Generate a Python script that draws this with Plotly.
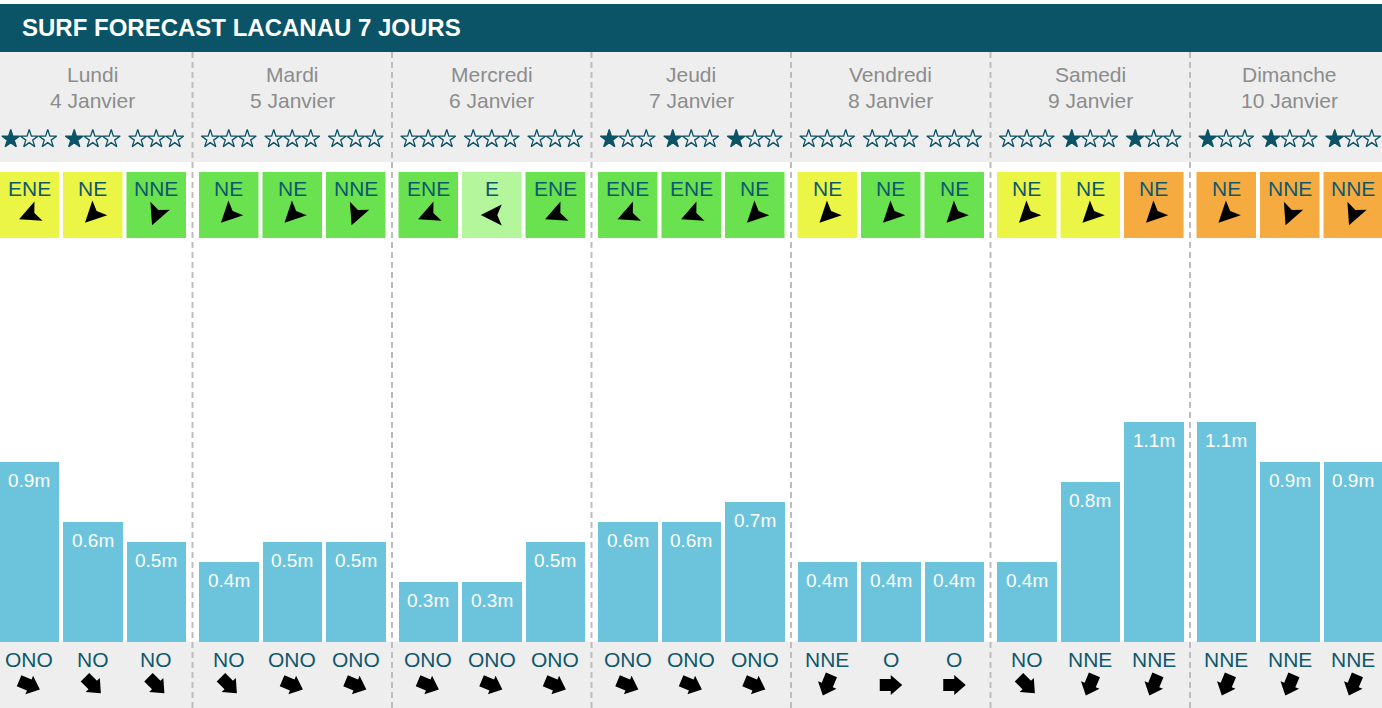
import plotly.graph_objects as go
import math

# ---------------- data ----------------
TITLE = "SURF FORECAST LACANAU 7 JOURS"
days = ["Lundi", "Mardi", "Mercredi", "Jeudi", "Vendredi", "Samedi", "Dimanche"]
dates = ["4 Janvier", "5 Janvier", "6 Janvier", "7 Janvier", "8 Janvier", "9 Janvier", "10 Janvier"]

wave_heights = [0.9, 0.6, 0.5,
                0.4, 0.5, 0.5,
                0.3, 0.3, 0.5,
                0.6, 0.6, 0.7,
                0.4, 0.4, 0.4,
                0.4, 0.8, 1.1,
                1.1, 0.9, 0.9]
star_ratings = [1, 1, 0,
                0, 0, 0,
                0, 0, 0,
                1, 1, 1,
                0, 0, 0,
                0, 1, 1,
                1, 1, 1]
wind_dirs = ["ENE", "NE", "NNE",
             "NE", "NE", "NNE",
             "ENE", "E", "ENE",
             "ENE", "ENE", "NE",
             "NE", "NE", "NE",
             "NE", "NE", "NE",
             "NE", "NNE", "NNE"]
wind_quality = ["fair", "fair", "good",
                "good", "good", "good",
                "good", "best", "good",
                "good", "good", "good",
                "fair", "good", "good",
                "fair", "fair", "poor",
                "poor", "poor", "poor"]
swell_dirs = ["ONO", "NO", "NO",
              "NO", "ONO", "ONO",
              "ONO", "ONO", "ONO",
              "ONO", "ONO", "ONO",
              "NNE", "O", "O",
              "NO", "NNE", "NNE",
              "NNE", "NNE", "NNE"]

COMPASS = {"N": 0, "NNE": 22.5, "NE": 45, "ENE": 67.5, "E": 90, "ESE": 112.5,
           "SE": 135, "SSE": 157.5, "S": 180, "SSO": 202.5, "SO": 225,
           "OSO": 247.5, "O": 270, "ONO": 292.5, "NO": 315, "NNO": 337.5}
QUALITY_COLORS = {"best": "#b3f69b", "good": "#6ae14f", "fair": "#eaf545", "poor": "#f5ab40"}

# ---------------- layout constants (pixels) ----------------
W, H = 1382, 708
DAY_W = 199.5
SLOT_W = 63.5
BAR_W = 59.5
X0 = -0.5
ZERO_PX = 641.5
PX_PER_M = 200.0
TEAL = "#0b5366"
TEXT_TEAL = "#0f586c"
GREY_BG = "#eeeeee"
BAR_COLOR = "#6bc4dc"
FONT = "Liberation Sans, Arial, sans-serif"

n = len(wave_heights)
lefts = [X0 + (i // 3) * DAY_W + (i % 3) * SLOT_W for i in range(n)]
centers = [l + BAR_W / 2 for l in lefts]
day_centers = [X0 + d * DAY_W + SLOT_W + BAR_W / 2 for d in range(len(days))]


def rot_path(points, cx, cy, bearing_to):
    b = math.radians(bearing_to)
    dx, dy = math.sin(b), -math.cos(b)
    pts = [(cx + px * dx - py * dy, cy + px * dy + py * dx) for px, py in points]
    return "M" + " L".join(f"{x:.2f},{y:.2f}" for x, y in pts) + " Z"


DART = [(11, 0), (-10, -10.5), (-5.5, 0), (-10, 10.5)]
BLOCK_ARROW = [(-11, -6), (0, -6), (0, -10), (11.5, 0), (0, 10), (0, 6), (-11, 6)]

shapes = []
# title bar
shapes.append(dict(type="rect", xref="x", yref="y2", x0=0, x1=W, y0=4, y1=52,
                   fillcolor=TEAL, line_width=0, layer="below"))
# grey header band
shapes.append(dict(type="rect", xref="x", yref="y2", x0=0, x1=W, y0=52, y1=162,
                   fillcolor=GREY_BG, line_width=0, layer="below"))
# grey bottom band
shapes.append(dict(type="rect", xref="x", yref="y2", x0=0, x1=W, y0=ZERO_PX, y1=H,
                   fillcolor=GREY_BG, line_width=0, layer="below"))
# day dividers
for d in range(1, len(days)):
    xd = X0 + d * DAY_W - (DAY_W - 2 * SLOT_W - BAR_W) / 2
    shapes.append(dict(type="line", xref="x", yref="y2", x0=xd, x1=xd, y0=52, y1=H,
                       line=dict(color="#bdbdbd", width=2, dash="6px,4px"), layer="below"))
# wind boxes + darts
for i in range(n):
    shapes.append(dict(type="rect", xref="x", yref="y2", x0=lefts[i], x1=lefts[i] + BAR_W,
                       y0=172, y1=238, fillcolor=QUALITY_COLORS[wind_quality[i]],
                       line_width=0, layer="below"))
    shapes.append(dict(type="path", xref="x", yref="y2",
                       path=rot_path(DART, centers[i], 215, COMPASS[wind_dirs[i]] + 180),
                       fillcolor="black", line_width=0))
    shapes.append(dict(type="path", xref="x", yref="y2",
                       path=rot_path(BLOCK_ARROW, centers[i], 685, COMPASS[swell_dirs[i]] + 180),
                       fillcolor="black", line_width=0))

annotations = []
annotations.append(dict(x=20, y=27, xref="x", yref="y2", xanchor="left", yanchor="middle",
                        text=f"<b>{TITLE}</b>", showarrow=False,
                        font=dict(family=FONT, size=24, color="white")))
for d in range(len(days)):
    annotations.append(dict(x=day_centers[d], y=74, xref="x", yref="y2", showarrow=False,
                            text=days[d], font=dict(family=FONT, size=21, color="#8c8c8c")))
    annotations.append(dict(x=day_centers[d], y=100, xref="x", yref="y2", showarrow=False,
                            text=dates[d], font=dict(family=FONT, size=21, color="#8c8c8c")))
for i in range(n):
    annotations.append(dict(x=centers[i], y=188, xref="x", yref="y2", showarrow=False,
                            text=wind_dirs[i], font=dict(family=FONT, size=21, color=TEXT_TEAL)))
    annotations.append(dict(x=centers[i], y=659, xref="x", yref="y2", showarrow=False,
                            text=swell_dirs[i], font=dict(family=FONT, size=21, color=TEXT_TEAL)))
    annotations.append(dict(x=centers[i], y=wave_heights[i], xref="x", yref="y", yshift=-19,
                            showarrow=False, text=f"{wave_heights[i]:g}m",
                            font=dict(family=FONT, size=19, color="white")))

fig = go.Figure()
fig.add_trace(go.Bar(x=centers, y=wave_heights, width=BAR_W, marker_color=BAR_COLOR,
                     marker_line_width=0, hoverinfo="skip", xaxis="x", yaxis="y"))

star_x, star_y, star_sym = [], [], []
for i in range(n):
    for k in range(3):
        star_x.append(centers[i] + (k - 1) * 18.5)
        star_y.append(139)
        star_sym.append("star" if k < star_ratings[i] else "star-open")
fig.add_trace(go.Scatter(x=star_x, y=star_y, mode="markers", xaxis="x", yaxis="y2",
                         marker=dict(symbol=star_sym, size=13.5, color=TEAL,
                                     line=dict(color=TEAL, width=1.3)),
                         hoverinfo="skip"))

fig.update_layout(
    width=W, height=H, margin=dict(l=0, r=0, t=0, b=0, pad=0),
    paper_bgcolor="white", plot_bgcolor="white", showlegend=False,
    xaxis=dict(range=[0, W], visible=False, fixedrange=True),
    yaxis=dict(range=[(ZERO_PX - H) / PX_PER_M, ZERO_PX / PX_PER_M], visible=False, fixedrange=True),
    yaxis2=dict(range=[H, 0], overlaying="y", anchor="x", visible=False, fixedrange=True),
    shapes=shapes, annotations=annotations, bargap=0,
)

fig.write_html("out.html", post_script="document.body.style.margin='0';document.body.style.overflow='hidden';",
               config={"displayModeBar": False})
